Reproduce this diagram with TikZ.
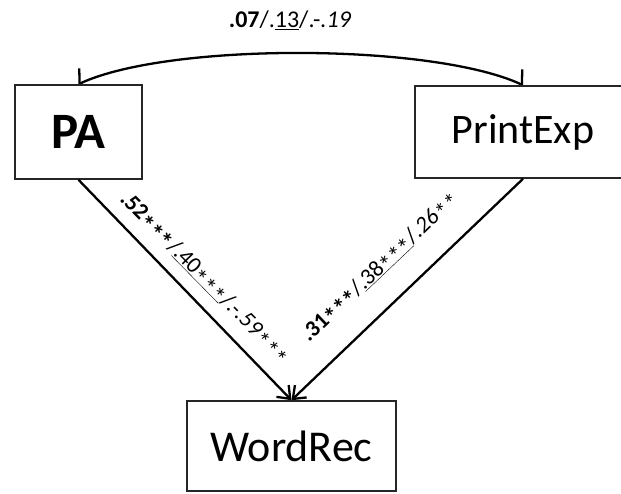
\documentclass[tikz,border=0pt]{standalone}
\usepackage{fontspec}
\usepackage{graphicx}
\setmainfont{Carlito}
\usetikzlibrary{arrows.meta,calc}
\pgfdeclarelayer{background}
\pgfsetlayers{background,main}
% significance star, set at mid height of the digits
\newcommand{\sigstar}{\smash{\raisebox{-0.24em}{\scalebox{1.1}{*}}}}
\begin{document}
\begin{tikzpicture}[x=1pt,y=1pt,
  box/.style={draw=black!85, line width=1.6pt, fill=white, inner sep=0pt},
  arr/.style={line width=2.3pt, -{Straight Barb[length=11pt,width=17pt,line width=2.3pt]}},
  lab/.style={font=\fontsize{23}{28}\selectfont, inner sep=0pt}]
\useasboundingbox (0,0) rectangle (621,-494);

% variables
\node[box, minimum width=127pt, minimum height=94pt,
      font=\fontsize{51}{58}\selectfont\bfseries] (PA) at (78.5,-132) {PA};
\node[box, minimum width=216pt, minimum height=92pt,
      font=\fontsize{42}{50}\selectfont] (PrintExp) at (523,-132) {PrintExp};
\node[box, minimum width=209pt, minimum height=90pt,
      font=\fontsize{44}{52}\selectfont] (WordRec) at (291.5,-446) {WordRec};

% correlation between the two predictors
\begin{pgfonlayer}{background}
\draw[line width=2.3pt,
      {Straight Barb[length=6pt,width=28pt,line width=2.3pt]}-{Straight Barb[length=6pt,width=28pt,line width=2.3pt]}]
  (PA.north) .. controls ($(PA.north)+(91,42)$) and ($(PrintExp.north)+(-91,42)$) .. (PrintExp.north);
\end{pgfonlayer}
\node[lab, font=\fontsize{24}{28}\selectfont, anchor=base] (corr) at (290,-28)
  {\textbf{.07}/.\underline{13}/.-\textit{.19}};

% paths to word recognition
\draw[arr] (PA.south) -- (WordRec.north);
\draw[arr] (PrintExp.south) -- (WordRec.north);

% path coefficients
\node[lab, anchor=base west, rotate=-45.5] (paLab) at (119,-200)
  {\textbf{.52\sigstar\sigstar\sigstar}/\underline{.40\sigstar\sigstar\sigstar}/.-\textit{.59\sigstar\sigstar\sigstar}};
\node[lab, anchor=base west, rotate=43.5] (peLab) at (309,-343)
  {\textbf{.31\sigstar\sigstar\sigstar}/\underline{.38\sigstar\sigstar\sigstar}/\textit{.26\sigstar\sigstar}};
\end{tikzpicture}
\end{document}
